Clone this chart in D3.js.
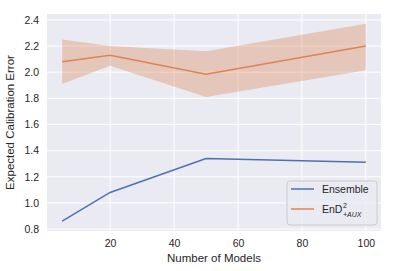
<!DOCTYPE html>
<html>
<head>
<meta charset="utf-8">
<script src="https://cdn.jsdelivr.net/npm/d3@7"></script>
<style>
  body { margin: 0; background: #fff; }
  text { font-family: "Liberation Sans", Arial, sans-serif; fill: #262626; }
</style>
</head>
<body>
<div class="graph"></div>
<script>
// values
const models = [5, 20, 50, 100];
const ensembleErr = [0.86, 1.08, 1.34, 1.31];
const endErr = [2.08, 2.13, 1.985, 2.20];
const endLow = [1.91, 2.05, 1.81, 2.015];
const endHigh = [2.25, 2.20, 2.16, 2.37];
const xTicks = [20, 40, 60, 80, 100];
const yTicks = [0.8, 1.0, 1.2, 1.4, 1.6, 1.8, 2.0, 2.2, 2.4];

const svg = d3.select(".graph").append("svg").attr("width", 394).attr("height", 271);

const plotL = 47, plotR = 381, plotT = 14, plotB = 231;

const xScale = d3.scaleLinear().domain([0.25, 104.75]).range([plotL, plotR]);
const yScale = d3.scaleLinear().domain([0.785, 2.445]).range([plotB, plotT]);

svg.append("rect")
  .attr("x", plotL).attr("y", plotT)
  .attr("width", plotR - plotL).attr("height", plotB - plotT)
  .attr("fill", "#eaeaf2");

// grid
svg.append("g").selectAll("line").data(xTicks).join("line")
  .attr("x1", d => xScale(d)).attr("x2", d => xScale(d))
  .attr("y1", plotT).attr("y2", plotB)
  .attr("stroke", "#fff").attr("stroke-width", 1);
svg.append("g").selectAll("line").data(yTicks).join("line")
  .attr("x1", plotL).attr("x2", plotR)
  .attr("y1", d => yScale(d)).attr("y2", d => yScale(d))
  .attr("stroke", "#fff").attr("stroke-width", 1);

// axes (labels only, seaborn style)
const xaxis = d3.axisBottom(xScale).tickValues(xTicks).tickSize(0).tickPadding(9);
const yaxis = d3.axisLeft(yScale).tickValues(yTicks).tickSize(0).tickPadding(8)
  .tickFormat(d3.format(".1f"));

const gx = svg.append("g").attr("transform", "translate(0," + plotB + ")").call(xaxis);
const gy = svg.append("g").attr("transform", "translate(" + plotL + ",0)").call(yaxis);
[gx, gy].forEach(g => {
  g.select(".domain").remove();
  g.selectAll("text").style("font-size", "10.5px").attr("fill", "#262626")
    .style("font-family", "Liberation Sans, Arial, sans-serif");
});

// band
const idx = d3.range(models.length);
const area = d3.area()
  .x(i => xScale(models[i]))
  .y0(i => yScale(endLow[i]))
  .y1(i => yScale(endHigh[i]));
svg.append("path").attr("d", area(idx))
  .attr("fill", "#dd8452").attr("fill-opacity", 0.35);

const line = vals => d3.line().x(i => xScale(models[i])).y(i => yScale(vals[i]))(idx);

svg.append("path").attr("d", line(ensembleErr))
  .attr("stroke", "#4c72b0").attr("stroke-width", 1.5).attr("fill", "none");
svg.append("path").attr("d", line(endErr))
  .attr("stroke", "#dd8452").attr("stroke-width", 1.5).attr("fill", "none");

// axis labels
svg.append("text")
  .attr("x", (plotL + plotR) / 2).attr("y", 262)
  .attr("text-anchor", "middle")
  .style("font-size", "11.5px")
  .text("Number of Models");
svg.append("text")
  .attr("transform", "translate(14," + (plotT + plotB) / 2 + ") rotate(-90)")
  .attr("text-anchor", "middle")
  .style("font-size", "11.5px")
  .text("Expected Calibration Error");

// legend
const lg = svg.append("g").attr("transform", "translate(287,181)");
lg.append("rect").attr("width", 90).attr("height", 44).attr("rx", 3)
  .attr("fill", "#eaeaf2").attr("fill-opacity", 0.8)
  .attr("stroke", "#cccccc").attr("stroke-width", 1);
lg.append("line").attr("x1", 4).attr("x2", 27).attr("y1", 8).attr("y2", 8)
  .attr("stroke", "#4c72b0").attr("stroke-width", 1.5);
lg.append("line").attr("x1", 4).attr("x2", 27).attr("y1", 28).attr("y2", 28)
  .attr("stroke", "#dd8452").attr("stroke-width", 1.5);
lg.append("text").attr("x", 35).attr("y", 12).style("font-size", "10.5px").text("Ensemble");
lg.append("text").attr("x", 35).attr("y", 32).style("font-size", "10.5px").text("EnD");
lg.append("text").attr("x", 56).attr("y", 27).style("font-size", "7px").text("2");
lg.append("text").attr("x", 56).attr("y", 35.5).style("font-size", "7px")
  .style("font-style", "italic").text("+AUX");
</script>
</body>
</html>
